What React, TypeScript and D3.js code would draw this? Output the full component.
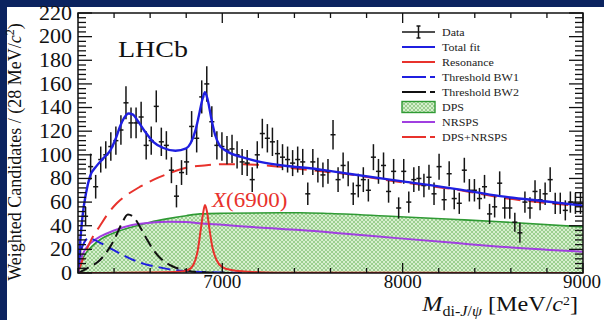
import React from "react";
import * as d3 from "d3";

// Di-J/psi invariant mass spectrum with fit components

const W = 604;
const H = 320;
const MASS_MIN = 6200;
const MASS_MAX = 9000;
const BIN_WIDTH = 28;
const Y_MAX = 220;

// Weighted candidates per 28 MeV bin, starting at 6200 MeV
const binCounts = [
  20, 48, 90, 73, 96, 100, 107, 112, 121, 144,
  127, 127, 132, 108, 112, 141, 111, 108, 87, 65,
  85, 94, 124, 114, 149, 160, 128, 108, 107, 104,
  105, 100, 94, 93, 79, 100, 118, 114, 111, 101,
  98, 96, 93, 96, 94, 67, 94, 87, 83, 86,
  117, 79, 91, 84, 67, 74, 79, 70, 98, 86,
  91, 69, 86, 55, 86, 60, 79, 80, 74, 81,
  67, 90, 62, 84, 63, 59, 87, 70, 70, 63,
  73, 50, 56, 76, 55, 55, 43, 34, 60, 55,
  69, 62, 67, 79, 59, 59, 53, 60, 59, 59,
];

const binErrors = [
  6, 8, 11, 10, 11, 11.5, 12, 12, 12.5, 14,
  13, 13, 13, 12, 12, 13.5, 12, 12, 11, 9.5,
  10.5, 11, 13, 12, 14, 15, 13, 12, 12, 12,
  12, 11.5, 11, 11, 10.5, 11.5, 12.5, 12, 12, 11.5,
  11, 11, 11, 11, 11, 9.5, 11, 10.5, 10.5, 10.5,
  12.5, 10.5, 11, 10.5, 9.5, 10, 10.5, 9.5, 11, 10.5,
  11, 9.5, 10.5, 9, 10.5, 9, 10.5, 10.5, 10, 10.5,
  9.5, 11, 9, 10.5, 9, 9, 10.5, 9.5, 9.5, 9,
  10, 8.5, 9, 10, 9, 9, 8, 8.5, 9, 9,
  9.5, 9, 9.5, 10.5, 9, 9, 8.5, 9, 9, 9,
];

// Total fit
const totalMass = [
  6200, 6210, 6225, 6245, 6267, 6300, 6340, 6380, 6410, 6433, 6455, 6480, 6505, 6530,
  6570, 6617, 6670, 6740, 6800, 6825, 6850, 6870, 6890, 6904, 6920, 6940, 6960, 6985,
  7010, 7050, 7100, 7210, 7357, 7486, 7700, 8000, 8300, 8540, 8800, 9000,
];
const totalFit = [
  0, 22, 48, 68, 82, 90, 97, 104, 114, 124, 131, 135, 134, 129,
  120, 111, 106, 103.5, 105.5, 110, 120, 133, 147, 153, 146, 130, 117, 108,
  104.5, 101, 98.4, 94, 90.5, 88.6, 84, 77.5, 71, 65, 60.5, 57,
];

// X(6900) resonance
const resMass = [
  6200, 6600, 6760, 6810, 6840, 6865, 6880, 6893, 6904, 6915, 6928, 6945, 6968,
  7000, 7050, 7150, 7300, 9000,
];
const resonance = [
  0, 0.4, 1, 2.5, 7, 20, 36, 50, 57.5, 52, 38, 22, 11,
  5, 2.5, 1, 0.3, 0,
];

// Threshold Breit-Wigner 1
const bw1Mass = [
  6200, 6215, 6235, 6260, 6290, 6330, 6377, 6440, 6507, 6570, 6636, 6720, 6803, 6900, 7000, 7200,
];
const thresholdBW1 = [
  5, 18, 26, 29.5, 28, 25, 21, 16, 11, 7.5, 5.3, 2.8, 1.5, 0.8, 0.4, 0,
];

// Threshold Breit-Wigner 2
const bw2Mass = [
  6200, 6250, 6322, 6360, 6400, 6440, 6477, 6510, 6544, 6580, 6618, 6660, 6729, 6800, 6840, 6950, 7100,
];
const thresholdBW2 = [
  0, 4, 11, 18, 28, 41, 49.5, 47, 39, 29, 19.5, 12, 5.3, 2.5, 1, 0.3, 0,
];

// Double parton scattering
const dpsMass = [
  6200, 6215, 6240, 6280, 6330, 6400, 6500, 6600, 6700, 6800, 6876, 7000, 7431, 7600, 7985, 8300, 8540, 9000,
];
const dps = [
  0, 8, 16, 23, 29, 34, 39, 43, 46, 48.5, 50, 50.5, 51, 50.3, 47.6, 45.3, 43.4, 39,
];

// Non-resonant single parton scattering
const nrspsMass = [
  6200, 6210, 6240, 6280, 6322, 6400, 6500, 6600, 6700, 6800, 6876, 7000, 7200, 7431, 7700, 7985, 8300, 8540, 9000,
];
const nrsps = [
  0, 8, 20, 26.5, 30.7, 36, 40.6, 42.5, 43.4, 43.2, 42, 40.8, 38.5, 36.4, 33, 29.3, 25.3, 22.3, 18,
];

// DPS + NRSPS sum
const sumMass = [
  6200, 6211, 6240, 6280, 6322, 6370, 6415, 6480, 6544, 6620, 6700, 6800, 6900, 7000,
  7100, 7200, 7431, 7700, 7985, 8300, 8540, 9000,
];
const dpsPlusNrsps = [
  0, 5, 17, 30, 40, 51, 59, 67, 73, 79, 84, 89, 91, 92,
  92, 91.5, 88, 83.5, 77, 70.5, 64, 56.5,
];

const yMajorTicks = d3.range(0, Y_MAX + 1, 20);
const yMinorTicks = d3.range(0, Y_MAX + 1, 4).filter((v) => v % 20 !== 0);
const xMajorTicks = [7000, 8000, 9000];
const xMinorTicks = d3.range(MASS_MIN, MASS_MAX + 1, 200).filter((v) => v % 1000 !== 0);

const legendLabels = [
  "Data",
  "Total fit",
  "Resonance",
  "Threshold BW1",
  "Threshold BW2",
  "DPS",
  "NRSPS",
  "DPS+NRSPS",
];

const SERIF = "'Liberation Serif', 'Times New Roman', serif";
const BLUE = "#1f1fe0";
const RED = "#e8322c";
const GREEN = "#2f9a34";
const PURPLE = "#a03fe0";
const BG = "#0b235f";

const PLOT = { left: 78, right: 583, top: 13, bottom: 273 };

type Pt = [number, number];
const zip = (xs: number[], ys: number[]): Pt[] => xs.map((m, i) => [m, ys[i]]);

export default function App() {
  const x = d3.scaleLinear().domain([MASS_MIN, MASS_MAX]).range([PLOT.left, PLOT.right]);
  const y = d3.scaleLinear().domain([0, Y_MAX]).range([PLOT.bottom, PLOT.top]);

  const line = d3
    .line<Pt>()
    .x((d) => x(d[0]))
    .y((d) => y(d[1]))
    .curve(d3.curveMonotoneX);
  const area = d3
    .area<Pt>()
    .x((d) => x(d[0]))
    .y0(y(0))
    .y1((d) => y(d[1]))
    .curve(d3.curveMonotoneX);

  const bins = binCounts.map((v, i) => ({
    center: MASS_MIN + BIN_WIDTH * (i + 0.5),
    value: v,
    err: binErrors[i],
  }));

  const legendX0 = 402;
  const legendX1 = 435;
  const legendY = (i: number) => 32 + i * 15;

  const sx = 1.15; // horizontal text stretch

  return (
    <div style={{ position: "fixed", left: 0, top: 0 }}>
      <svg width={W} height={H} viewBox={`0 0 ${W} ${H}`} style={{ display: "block" }}>
        <defs>
          <clipPath id="plotClip">
            <rect x={PLOT.left} y={PLOT.top} width={PLOT.right - PLOT.left} height={PLOT.bottom - PLOT.top} />
          </clipPath>
          <pattern id="dpsHatch" width={4} height={4} patternUnits="userSpaceOnUse">
            <rect width={4} height={4} fill="#d6efce" />
            <path d="M0,4 L4,0 M-1,1 L1,-1 M3,5 L5,3" stroke="#94cc89" strokeWidth={0.9} />
            <path d="M0,0 L4,4 M-1,3 L1,5 M3,-1 L5,1" stroke="#94cc89" strokeWidth={0.9} />
          </pattern>
        </defs>

        <rect x={0} y={0} width={W} height={H} fill={BG} />
        <rect x={7} y={7} width={W - 7} height={H - 7} fill="#ffffff" />

        {/* fit components */}
        <g clipPath="url(#plotClip)">
          <path d={area(zip(dpsMass, dps)) ?? ""} fill="url(#dpsHatch)" />
          <path d={line(zip(dpsMass, dps)) ?? ""} fill="none" stroke={GREEN} strokeWidth={1.6} />
          <path d={line(zip(nrspsMass, nrsps)) ?? ""} fill="none" stroke={PURPLE} strokeWidth={2} />
          <path
            d={line(zip(sumMass, dpsPlusNrsps)) ?? ""}
            fill="none"
            stroke={RED}
            strokeWidth={2}
            strokeDasharray="16 8"
          />
          <path
            d={line(zip(bw1Mass, thresholdBW1)) ?? ""}
            fill="none"
            stroke={BLUE}
            strokeWidth={2}
            strokeDasharray="12 6"
          />
          <path
            d={line(zip(bw2Mass, thresholdBW2)) ?? ""}
            fill="none"
            stroke="#111"
            strokeWidth={2}
            strokeDasharray="12 6"
          />
          <path d={line(zip(resMass, resonance)) ?? ""} fill="none" stroke={RED} strokeWidth={2} />
        </g>

        {/* data points */}
        <g stroke="#151515" strokeWidth={1.5}>
          {bins.map((b, i) => (
            <g key={i}>
              <line x1={x(b.center)} x2={x(b.center)} y1={y(Math.max(0, b.value - b.err))} y2={y(b.value + b.err)} />
              <line x1={x(b.center - BIN_WIDTH / 2)} x2={x(b.center + BIN_WIDTH / 2)} y1={y(b.value)} y2={y(b.value)} />
            </g>
          ))}
        </g>

        <g clipPath="url(#plotClip)">
          <path d={line(zip(totalMass, totalFit)) ?? ""} fill="none" stroke={BLUE} strokeWidth={2.4} />
        </g>

        {/* frame */}
        <rect
          x={PLOT.left}
          y={PLOT.top}
          width={PLOT.right - PLOT.left}
          height={PLOT.bottom - PLOT.top}
          fill="none"
          stroke="#111"
          strokeWidth={1.5}
        />

        {/* ticks on all four sides */}
        <g stroke="#111" strokeWidth={1.3}>
          {yMajorTicks.map((v) => (
            <g key={`ym${v}`}>
              <line x1={PLOT.left} x2={PLOT.left + 14} y1={y(v)} y2={y(v)} />
              <line x1={PLOT.right} x2={PLOT.right - 14} y1={y(v)} y2={y(v)} />
            </g>
          ))}
          {yMinorTicks.map((v) => (
            <g key={`yn${v}`}>
              <line x1={PLOT.left} x2={PLOT.left + 8} y1={y(v)} y2={y(v)} />
              <line x1={PLOT.right} x2={PLOT.right - 8} y1={y(v)} y2={y(v)} />
            </g>
          ))}
          {xMajorTicks.map((m) => (
            <g key={`xm${m}`}>
              <line x1={x(m)} x2={x(m)} y1={PLOT.bottom} y2={PLOT.bottom - 10} />
              <line x1={x(m)} x2={x(m)} y1={PLOT.top} y2={PLOT.top + 10} />
            </g>
          ))}
          {xMinorTicks.map((m) => (
            <g key={`xn${m}`}>
              <line x1={x(m)} x2={x(m)} y1={PLOT.bottom} y2={PLOT.bottom - 5} />
              <line x1={x(m)} x2={x(m)} y1={PLOT.top} y2={PLOT.top + 5} />
            </g>
          ))}
        </g>

        {/* tick labels */}
        <g fontFamily={SERIF} fontSize={20} fill="#111">
          {yMajorTicks.map((v) => (
            <text key={`yl${v}`} transform={`translate(72,${y(v) + 6.8}) scale(1.1,1)`} textAnchor="end">
              {v}
            </text>
          ))}
          {xMajorTicks.map((m) => (
            <text key={`xl${m}`} x={Math.min(x(m), 582)} y={288} textAnchor="middle" fontSize={19}>
              {m}
            </text>
          ))}
        </g>

        {/* axis titles */}
        <text transform="translate(20.5,152) rotate(-90)" fontFamily={SERIF} fontSize={18} fill="#111" textAnchor="middle">
          Weighted Candidates / (28 MeV/<tspan fontStyle="italic">c</tspan>
          <tspan dy={-7} fontSize={12}>2</tspan>
          <tspan dy={7}>)</tspan>
        </text>
        <text transform={`translate(578,311) scale(${sx},1)`} fontFamily={SERIF} fontSize={21} fill="#111" textAnchor="end">
          <tspan fontStyle="italic">M</tspan>
          <tspan dy={5} fontSize={14}>
            di-<tspan fontStyle="italic">J</tspan>/<tspan fontStyle="italic">ψ</tspan>
          </tspan>
          <tspan dy={-5}> [MeV/</tspan>
          <tspan fontStyle="italic">c</tspan>
          <tspan dy={-6} fontSize={12}>2</tspan>
          <tspan dy={6}>]</tspan>
        </text>

        {/* experiment label */}
        <text x={118} y={57} fontFamily={SERIF} fontSize={23} fill="#111" textLength={70} lengthAdjust="spacingAndGlyphs">
          LHCb
        </text>

        {/* resonance label */}
        <text transform={`translate(212,207) scale(${sx},1)`} fontFamily={SERIF} fontSize={20} fill={RED}>
          <tspan fontStyle="italic">X</tspan>(6900)
        </text>

        {/* legend */}
        <g>
          <g stroke="#151515" strokeWidth={1.5}>
            <line x1={legendX0} x2={legendX1} y1={legendY(0)} y2={legendY(0)} />
            <line x1={418.5} x2={418.5} y1={legendY(0) - 6} y2={legendY(0) + 6} />
            <line x1={416.5} x2={420.5} y1={legendY(0) - 6} y2={legendY(0) - 6} />
            <line x1={416.5} x2={420.5} y1={legendY(0) + 6} y2={legendY(0) + 6} />
          </g>
          <line x1={legendX0} x2={legendX1} y1={legendY(1)} y2={legendY(1)} stroke={BLUE} strokeWidth={2} />
          <line x1={legendX0} x2={legendX1} y1={legendY(2)} y2={legendY(2)} stroke={RED} strokeWidth={2} />
          <line x1={legendX0} x2={legendX1} y1={legendY(3)} y2={legendY(3)} stroke={BLUE} strokeWidth={2} strokeDasharray="24 4" />
          <line x1={legendX0} x2={legendX1} y1={legendY(4)} y2={legendY(4)} stroke="#111" strokeWidth={2} strokeDasharray="24 4" />
          <rect x={legendX0} y={legendY(5) - 5.5} width={legendX1 - legendX0} height={11} fill="url(#dpsHatch)" stroke={GREEN} strokeWidth={1.4} />
          <line x1={legendX0} x2={legendX1} y1={legendY(6)} y2={legendY(6)} stroke={PURPLE} strokeWidth={2} />
          <line x1={legendX0} x2={legendX1} y1={legendY(7)} y2={legendY(7)} stroke={RED} strokeWidth={2} strokeDasharray="24 4" />
          <g fontFamily={SERIF} fontSize={10} fill="#222">
            {legendLabels.map((label, i) => (
              <text key={label} transform={`translate(442,${legendY(i) + 3.5}) scale(1.2,1)`}>
                {label}
              </text>
            ))}
          </g>
        </g>
      </svg>
    </div>
  );
}
